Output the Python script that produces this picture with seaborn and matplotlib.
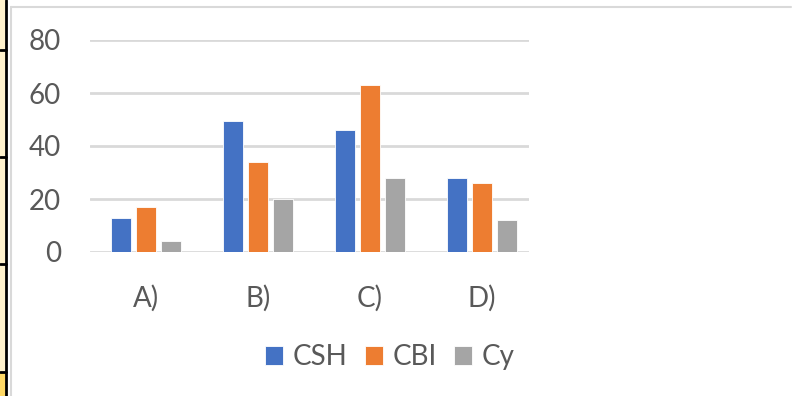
import pandas as pd
import matplotlib.pyplot as plt
import seaborn as sns
from matplotlib.lines import Line2D
from matplotlib.patches import Rectangle

# Data
categories = ["A)", "B)", "C)", "D)"]
series = ["CSH", "CBI", "Cy"]
csh = [13, 49.5, 46, 28]
cbi = [17, 34, 63, 26]
cy = [4, 20, 28, 12]

df = pd.DataFrame({
    "cat": categories * 3,
    "series": [s for s in series for _ in categories],
    "value": csh + cbi + cy,
})

colors = ["#4472C4", "#ED7D31", "#A5A5A5"]
text_color = "#595959"

sns.set_theme(style="white")
plt.rcParams["font.family"] = ["Lato", "DejaVu Sans"]

fig = plt.figure(figsize=(7.92, 3.96), dpi=100)
W, H = 792, 396

# spreadsheet cell strip on the left
fig.patches.append(Rectangle((0, 0), 6 / W, 1, transform=fig.transFigure,
                             facecolor="#FFF2CC", edgecolor="none", zorder=0))
fig.patches.append(Rectangle((0, 0), 6 / W, 23 / H, transform=fig.transFigure,
                             facecolor="#FFD966", edgecolor="none", zorder=0))
fig.lines.append(Line2D([6 / W, 6 / W], [0, 1], transform=fig.transFigure,
                        color="black", lw=2))
for yy in [50, 157, 264, 372]:
    fig.lines.append(Line2D([0, 6 / W], [1 - yy / H, 1 - yy / H],
                            transform=fig.transFigure, color="black", lw=2))

# chart area border
fig.lines.append(Line2D([11 / W, 11 / W], [0, 1 - 7 / H], transform=fig.transFigure,
                        color="#D9D9D9", lw=1.5))
fig.lines.append(Line2D([11 / W, 791 / W], [1 - 7 / H, 1 - 7 / H], transform=fig.transFigure,
                        color="#D9D9D9", lw=1.5))

# plot area
x0, x1 = 90, 529
y_top, y_bot = 40, 252
ax = fig.add_axes([x0 / W, 1 - y_bot / H, (x1 - x0) / W, (y_bot - y_top) / H])

sns.barplot(data=df, x="cat", y="value", hue="series", palette=colors, saturation=1,
            width=0.67, gap=0.2, ax=ax, zorder=3, edgecolor="white", linewidth=0.6)

ax.set_ylim(0, 80)
ax.set_xlim(-0.5, 3.42)
ax.set_yticks([0, 20, 40, 60, 80])
ax.grid(axis="y", color="#D9D9D9", lw=2, zorder=0)
ax.set_axisbelow(True)
for s in ax.spines.values():
    s.set_visible(False)
ax.set_xlabel("")
ax.set_ylabel("")
ax.tick_params(axis="y", length=0, pad=21, labelsize=20, labelcolor=text_color)
ax.tick_params(axis="x", length=0, pad=24, labelsize=20, labelcolor=text_color)

handles, labels = ax.get_legend_handles_labels()
ax.legend(handles, labels, loc="center", bbox_to_anchor=(390 / W, 1 - 357 / H),
          bbox_transform=fig.transFigure, ncol=3, frameon=False,
          fontsize=20, labelcolor=text_color, handlelength=0.65, handleheight=0.65,
          handletextpad=0.35, columnspacing=0.62)

fig.savefig("out.png", dpi=100)
